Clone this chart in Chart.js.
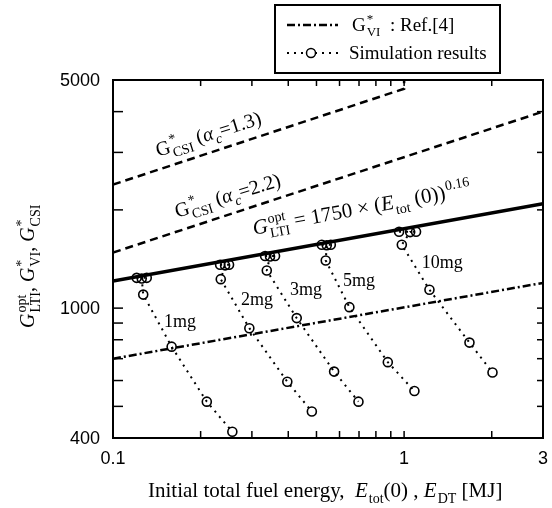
<!DOCTYPE html>
<html>
<head>
<meta charset="utf-8">
<script src="https://cdn.jsdelivr.net/npm/chart.js@4.4.1/dist/chart.umd.min.js"></script>
<style>
  html, body { margin: 0; padding: 0; background: #fff; }
  canvas { display: block; }
</style>
</head>
<body>
<canvas id="chart" width="552" height="508"></canvas>
<script>
// Axis ticks
var xTickValues = [0.1, 0.2, 0.3, 0.4, 0.5, 0.6, 0.7, 0.8, 0.9, 1, 2, 3];
var xTickLabels = [0.1, 1, 3];
var yTickValues = [400, 500, 600, 700, 800, 900, 1000, 2000, 3000, 4000, 5000];
var yTickLabels = [400, 1000, 5000];

// Reference lines
var ltiEnergy = [0.1, 3];
var ltiGain = [1210, 2090];
var viEnergy = [0.1, 3];
var viGain = [700, 1195];
var csi13Energy = [0.1, 1.0, 1.0];
var csi13Gain = [2390, 4700, 5000];
var csi22Energy = [0.1, 3];
var csi22Gain = [1480, 4000];

// Simulation results, one small array pair per fuel mass
var massLabels = ['1mg', '2mg', '3mg', '5mg', '10mg'];
var energy1mg = [0.1206, 0.1306, 0.1255, 0.127, 0.159, 0.21, 0.257];
var gain1mg = [1238, 1238, 1232, 1100, 762, 517, 418];
var energy2mg = [0.2333, 0.2504, 0.2427, 0.2345, 0.294, 0.397, 0.482];
var gain2mg = [1358, 1358, 1352, 1227, 868, 595, 482];
var energy3mg = [0.333, 0.3603, 0.3463, 0.3375, 0.4277, 0.5748, 0.697];
var gain3mg = [1445, 1445, 1440, 1304, 932, 639, 517];
var energy5mg = [0.5215, 0.56, 0.5424, 0.538, 0.6487, 0.879, 1.085];
var gain5mg = [1563, 1563, 1558, 1400, 1007, 683, 557];
var energy10mg = [0.961, 1.099, 1.049, 0.982, 1.222, 1.677, 2.012];
var gain10mg = [1714, 1714, 1710, 1563, 1138, 784, 635];

// where the mass labels sit (data coords)
var massLabelE = [0.17, 0.3124, 0.4605, 0.7005, 1.351];
var massLabelG = [908, 1060, 1138, 1212, 1377];

var SERIF = "'Liberation Serif', 'Times New Roman', serif";
var SANS = "'Liberation Sans', Arial, sans-serif";

function pts(xs, ys) {
    return xs.map(function (v, i) { return { x: v, y: ys[i] }; });
}

function lineSet(xs, ys, width, dash) {
    return {
        data: pts(xs, ys),
        showLine: true,
        borderColor: '#000',
        borderWidth: width,
        borderDash: dash,
        pointRadius: 0,
        tension: 0
    };
}

function simSet(xs, ys) {
    return {
        data: pts(xs, ys),
        showLine: true,
        borderColor: '#000',
        borderWidth: 2,
        borderDash: [2, 5],
        pointRadius: 4.5,
        pointBorderWidth: 1.6,
        pointBorderColor: '#000',
        pointBackgroundColor: 'rgba(0,0,0,0)',
        tension: 0
    };
}

// draws text with sub/superscripts; parts: {t, i} or {sup, sub, i}
function richText(ctx, parts, x, y, angle, size) {
    var small = Math.round(size * 0.68);
    ctx.save();
    ctx.translate(x, y);
    ctx.rotate(angle * Math.PI / 180);
    ctx.textAlign = 'left';
    ctx.textBaseline = 'alphabetic';
    ctx.fillStyle = '#000';
    var cx = 0;
    parts.forEach(function (p) {
        if (p.t !== undefined) {
            ctx.font = (p.i ? 'italic ' : '') + size + 'px ' + SERIF;
            ctx.fillText(p.t, cx, 0);
            cx += ctx.measureText(p.t).width;
        } else {
            ctx.font = (p.i ? 'italic ' : '') + small + 'px ' + SERIF;
            var w = 0;
            if (p.sup) {
                ctx.fillText(p.sup, cx + 1, -size * 0.42);
                w = ctx.measureText(p.sup).width + 1;
            }
            if (p.sub) {
                ctx.fillText(p.sub, cx + 1, size * 0.28);
                w = Math.max(w, ctx.measureText(p.sub).width + 1);
            }
            cx += w;
        }
    });
    ctx.restore();
}

var decorPlugin = {
    id: 'decor',
    afterDraw: function (chart) {
        var ctx = chart.ctx;
        var a = chart.chartArea;
        var xs = chart.scales.x;
        var ys = chart.scales.y;

        function seg(x1, y1, x2, y2) {
            ctx.beginPath();
            ctx.moveTo(x1, y1);
            ctx.lineTo(x2, y2);
            ctx.stroke();
        }

        ctx.save();
        ctx.strokeStyle = '#000';
        ctx.setLineDash([]);

        // frame
        ctx.lineWidth = 2;
        ctx.strokeRect(a.left, a.top, a.right - a.left, a.bottom - a.top);

        // inward ticks
        ctx.lineWidth = 1.5;
        xTickValues.forEach(function (v) {
            var px = xs.getPixelForValue(v);
            seg(px, a.bottom, px, a.bottom - 7);
            seg(px, a.top, px, a.top + 6);
        });
        yTickValues.forEach(function (v) {
            var py = ys.getPixelForValue(v);
            seg(a.left, py, a.left + 10, py);
            seg(a.right, py, a.right - 6, py);
        });

        // tick labels
        ctx.fillStyle = '#000';
        ctx.font = '18px ' + SANS;
        ctx.textAlign = 'center';
        ctx.textBaseline = 'middle';
        xTickLabels.forEach(function (v) {
            ctx.fillText(String(v), xs.getPixelForValue(v), a.bottom + 21);
        });
        ctx.textAlign = 'right';
        yTickLabels.forEach(function (v) {
            ctx.fillText(String(v), a.left - 13, ys.getPixelForValue(v) + 1);
        });

        // mass labels
        ctx.font = '18px ' + SERIF;
        ctx.textAlign = 'center';
        ctx.textBaseline = 'middle';
        massLabels.forEach(function (m, i) {
            ctx.fillText(m, xs.getPixelForValue(massLabelE[i]), ys.getPixelForValue(massLabelG[i]));
        });

        // curve annotations
        richText(ctx, [{ t: 'G' }, { sup: '*', sub: 'CSI' }, { t: ' (' }, { t: 'α', i: true }, { sub: 'c', i: true }, { t: '=1.3)' }],
            xs.getPixelForValue(0.1428), ys.getPixelForValue(2911), -17.5, 20);
        richText(ctx, [{ t: 'G' }, { sup: '*', sub: 'CSI' }, { t: ' (' }, { t: 'α', i: true }, { sub: 'c', i: true }, { t: '=2.2)' }],
            xs.getPixelForValue(0.166), ys.getPixelForValue(1892), -17, 20);
        richText(ctx, [{ t: 'G', i: true }, { sup: 'opt', sub: 'LTI' }, { t: ' = 1750 × (' }, { t: 'E', i: true },
            { sub: 'tot' }, { t: ' (0))' }, { sup: '0.16' }],
            xs.getPixelForValue(0.305), ys.getPixelForValue(1678), -10.5, 21);

        // axis titles
        richText(ctx, [{ t: 'Initial total fuel energy,  ' }, { t: 'E', i: true }, { sub: 'tot' }, { t: '(0) , ' },
            { t: 'E', i: true }, { sub: 'DT' }, { t: ' [MJ]' }], 148, 497, 0, 21);
        richText(ctx, [{ t: 'G', i: true }, { sup: 'opt', sub: 'LTI' }, { t: ', ' }, { t: 'G', i: true }, { sup: '*', sub: 'VI' },
            { t: ', ' }, { t: 'G', i: true }, { sup: '*', sub: 'CSI' }], 34, 328, -90, 20);

        // legend box
        ctx.lineWidth = 2;
        ctx.setLineDash([]);
        ctx.strokeRect(275, 5, 225, 68);
        ctx.lineWidth = 2.5;
        ctx.setLineDash([8, 3, 2, 3]);
        seg(287, 25, 338, 25);
        ctx.lineWidth = 2;
        ctx.setLineDash([2, 5]);
        seg(287, 53, 338, 53);
        ctx.setLineDash([]);
        ctx.lineWidth = 1.5;
        ctx.fillStyle = '#fff';
        ctx.beginPath();
        ctx.arc(311, 53, 4.5, 0, Math.PI * 2);
        ctx.fill();
        ctx.stroke();
        richText(ctx, [{ t: 'G' }, { sup: '*', sub: 'VI' }, { t: '  : Ref.[4]' }], 352, 31, 0, 19);
        richText(ctx, [{ t: 'Simulation results' }], 349, 59, 0, 19);

        ctx.restore();
    }
};

var datasets = [
    lineSet(ltiEnergy, ltiGain, 3.5, []),
    lineSet(viEnergy, viGain, 2.5, [8, 3, 2, 3]),
    lineSet(csi13Energy, csi13Gain, 2.5, [8, 5]),
    lineSet(csi22Energy, csi22Gain, 2.5, [8, 5]),
    simSet(energy1mg, gain1mg),
    simSet(energy2mg, gain2mg),
    simSet(energy3mg, gain3mg),
    simSet(energy5mg, gain5mg),
    simSet(energy10mg, gain10mg)
];

var chart = new Chart(document.getElementById('chart').getContext('2d'), {
    type: 'scatter',
    data: { datasets: datasets },
    options: {
        responsive: false,
        animation: false,
        devicePixelRatio: 1,
        layout: { padding: { left: 113, right: 9, top: 80, bottom: 70 } },
        plugins: { legend: { display: false }, tooltip: { enabled: false } },
        scales: {
            x: {
                type: 'logarithmic', min: 0.1, max: 3,
                grid: { display: false, drawTicks: false },
                border: { display: false },
                ticks: { display: false },
                afterFit: function (s) { s.height = 0; }
            },
            y: {
                type: 'logarithmic', min: 400, max: 5000,
                grid: { display: false, drawTicks: false },
                border: { display: false },
                ticks: { display: false },
                afterFit: function (s) { s.width = 0; }
            }
        }
    },
    plugins: [decorPlugin]
});
</script>
</body>
</html>
